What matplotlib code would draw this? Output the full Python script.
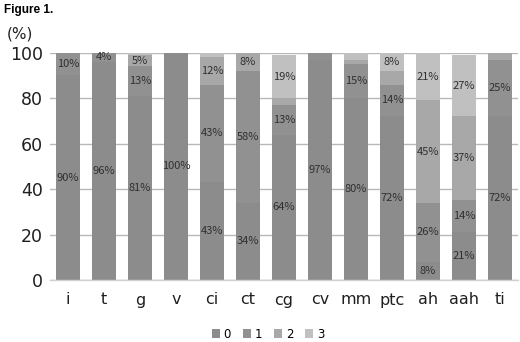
import matplotlib
matplotlib.use("Agg")
import matplotlib.pyplot as plt
import numpy as np

categories = ["i", "t", "g", "v", "ci", "ct", "cg", "cv", "mm", "ptc", "ah", "aah", "ti"]
s0 = [90, 96, 81, 100, 43, 34, 64, 97, 80, 72, 8, 21, 72]
s1 = [10, 4, 13, 0, 43, 58, 13, 3, 15, 14, 26, 14, 25]
s2 = [0, 0, 5, 0, 12, 8, 3, 0, 2, 6, 45, 37, 3]
s3 = [0, 0, 1, 0, 2, 0, 19, 0, 3, 8, 21, 27, 0]
series_names = ["0", "1", "2", "3"]
yticks = [0, 20, 40, 60, 80, 100]
# data labels that are not shown in the original (category, series index)
hidden_labels = [("ptc", 2)]

colors = ["#8c8c8c", "#919191", "#a8a8a8", "#c0c0c0"]

fig = plt.figure(figsize=(5.2, 3.42), dpi=100)
ax = fig.add_axes([50/520, 1 - 280/342, 468/520, (280-52.7)/342])
ax.set_axisbelow(True)

x = np.arange(len(categories))
bottom = np.zeros(len(categories))
for si, (vals, name, col) in enumerate(zip([s0, s1, s2, s3], series_names, colors)):
    vals = np.array(vals, dtype=float)
    ax.bar(x, vals, 0.65, bottom=bottom, color=col, label=name, zorder=2)
    for cat, xi, b, v in zip(categories, x, bottom, vals):
        if v >= 4 and (cat, si) not in hidden_labels:
            ax.text(xi, b + v / 2, f"{int(v)}%", ha="center", va="center",
                    fontsize=8, color="#303030", family=["Noto Sans CJK JP", "DejaVu Sans"], zorder=3)
    bottom += vals

ax.set_xlim(-0.5, len(categories) - 0.5)
ax.set_ylim(0, 100)
ax.set_yticks(yticks)
ax.set_yticklabels([str(t) for t in yticks], fontsize=12.5, family="DejaVu Sans", color="#202020")
ax.set_xticks(x)
ax.set_xticklabels(categories, fontsize=11.5, family="DejaVu Sans", color="#202020")
ax.tick_params(axis="both", length=0)
ax.tick_params(axis="x", pad=9)
ax.tick_params(axis="y", pad=5)
ax.grid(axis="y", color="#b8b8b8", linewidth=1)
for s in ["top", "right", "left"]:
    ax.spines[s].set_visible(False)
ax.spines["bottom"].set_color("#d0d0d0")
ax.spines["bottom"].set_linewidth(1)

fig.text(4/520, 1 - 10/342, "Figure 1.", fontsize=8.5, fontweight="bold",
         family="Liberation Sans", va="center", ha="left")
fig.text(7/520, 1 - 34/342, "(%)", fontsize=11, family="DejaVu Sans", va="center", ha="left", color="#202020")

fig.legend(loc="center", bbox_to_anchor=(268/520, 1 - 334/342), ncol=4, frameon=False,
           handlelength=0.7, handleheight=0.7, handletextpad=0.3,
           columnspacing=1.0, prop={"family": "DejaVu Sans", "size": 8.5})

fig.savefig("out.png", dpi=100)
